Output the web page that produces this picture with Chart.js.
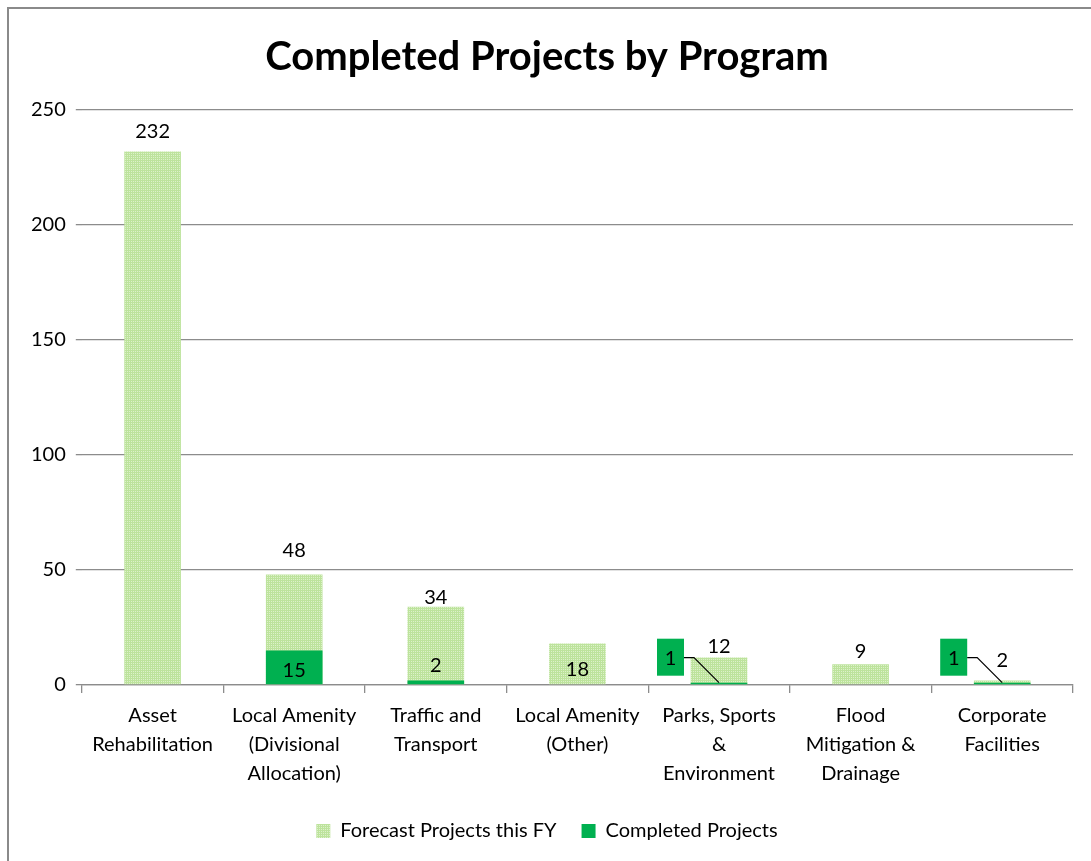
<!DOCTYPE html>
<html>
<head>
<meta charset="utf-8">
<script src="https://cdn.jsdelivr.net/npm/chart.js@4"></script>
<style>
  body { margin: 0; background: #fff; overflow: hidden; }
  #moldura {
    position: absolute; left: 7px; top: 7px; width: 1100px; height: 870px;
    border: 2px solid #8a8a8a; box-sizing: border-box; background: #fff;
  }
  #div_canva { position: absolute; left: 0; top: 0; width: 1082px; height: 852px; }
</style>
</head>
<body>
<div id="moldura"><div id="div_canva"><canvas id="myChart"></canvas></div></div>
<script>
const programas = [
  ['Asset', 'Rehabilitation'],
  ['Local Amenity', '(Divisional', 'Allocation)'],
  ['Traffic and', 'Transport'],
  ['Local Amenity', '(Other)'],
  ['Parks, Sports', '&', 'Environment'],
  ['Flood', 'Mitigation &', 'Drainage'],
  ['Corporate', 'Facilities']
];
const previstos = [232, 48, 34, 18, 12, 9, 2];
const concluidos = [0, 15, 2, 0, 1, 0, 1];
const ticksY = [0, 50, 100, 150, 200, 250];

const fonte = 'Lato, "Open Sans", sans-serif';
const verdeEscuro = '#00b050';

// padrao xadrez do Excel para a serie prevista
function criarPadrao(){
  const c = document.createElement('canvas');
  c.width = 4; c.height = 4;
  const g = c.getContext('2d');
  g.fillStyle = '#bde39c';
  g.fillRect(0, 0, 4, 4);
  g.fillStyle = '#dcf1ca';
  g.fillRect(0, 0, 1, 1); g.fillRect(2, 2, 1, 1);
  g.fillRect(2, 0, 1, 1); g.fillRect(0, 2, 1, 1);
  return g.createPattern(c, 'repeat');
}

// deslocamento dos rotulos da serie prevista (posicionados a mao no original)
const ajusteRotulo = [-20, -24, -9, null, -11, -13, -20];

const rotulos = {
  id: 'rotulos',
  afterDatasetsDraw(chart){
    const ctx = chart.ctx;
    ctx.save();
    ctx.font = '20px ' + fonte;
    ctx.textAlign = 'center';
    ctx.textBaseline = 'middle';
    const metaPrev = chart.getDatasetMeta(0);
    const metaConc = chart.getDatasetMeta(1);
    const base = chart.scales.y.getPixelForValue(0);

    metaPrev.data.forEach((bar, i) => {
      ctx.fillStyle = '#000';
      let y;
      if (ajusteRotulo[i] === null) y = base - 15;
      else y = bar.y + ajusteRotulo[i];
      ctx.fillText(String(previstos[i]), bar.x, y);
    });

    metaConc.data.forEach((bar, i) => {
      const v = concluidos[i];
      if (!v) return;
      if (v >= 10) {
        ctx.fillStyle = '#000';
        ctx.fillText(String(v), bar.x, (bar.y + base) / 2 + 3);
      } else if (v >= 2) {
        ctx.fillStyle = '#000';
        ctx.fillText(String(v), bar.x, bar.y - 15);
      } else {
        // rotulo com linha de chamada
        const bx = bar.x - 62, by = bar.y - 44, bw = 27, bh = 37;
        ctx.fillStyle = verdeEscuro;
        ctx.fillRect(bx, by, bw, bh);
        ctx.fillStyle = '#000';
        ctx.fillText(String(v), bx + bw / 2, by + bh / 2 + 1);
        ctx.strokeStyle = '#000';
        ctx.lineWidth = 1.2;
        ctx.beginPath();
        ctx.moveTo(bx + bw, by + 19);
        ctx.lineTo(bx + bw + 10, by + 19);
        ctx.lineTo(bar.x, bar.y);
        ctx.stroke();
      }
    });
    ctx.restore();
  }
};

const ctx = document.getElementById('myChart');

new Chart(ctx, {
  type: 'bar',
  data: {
    labels: programas,
    datasets: [
      {
        label: 'Forecast Projects this FY',
        data: previstos,
        backgroundColor: criarPadrao(),
        grouped: false,
        order: 2
      },
      {
        label: 'Completed Projects',
        data: concluidos,
        backgroundColor: verdeEscuro,
        grouped: false,
        order: 1
      }
    ]
  },
  options: {
    responsive: true,
    maintainAspectRatio: false,
    animation: false,
    barPercentage: 1,
    categoryPercentage: 0.4,
    layout: { padding: { left: 12, right: 18, top: 8, bottom: 10 } },
    scales: {
      y: {
        min: 0,
        max: 250,
        afterBuildTicks: axis => { axis.ticks = ticksY.map(v => ({ value: v })); },
        ticks: { color: '#000', font: { size: 20, family: fonte }, padding: 10 },
        grid: { color: '#8c8c8c', lineWidth: 1.3, tickLength: 6, drawTicks: true },
        border: { display: false }
      },
      x: {
        ticks: { color: '#000', font: { size: 20, family: fonte, lineHeight: 1.45 }, maxRotation: 0, autoSkip: false, padding: 8 },
        grid: { offset: true, drawOnChartArea: false, drawTicks: true, tickLength: 8, color: '#8c8c8c', lineWidth: 1.3 },
        border: { display: true, color: '#8c8c8c', width: 1.3 }
      }
    },
    plugins: {
      legend: {
        position: 'bottom',
        labels: {
          color: '#000',
          font: { size: 20, family: fonte },
          boxWidth: 14,
          boxHeight: 14,
          padding: 25,
          sort: (a, b) => a.datasetIndex - b.datasetIndex
        }
      },
      title: {
        display: true,
        text: 'Completed Projects by Program',
        color: '#000',
        font: { size: 40, weight: 'bold', family: fonte },
        padding: { top: 16, bottom: 29 }
      },
      tooltip: { enabled: false }
    }
  },
  plugins: [rotulos]
});
</script>
</body>
</html>
